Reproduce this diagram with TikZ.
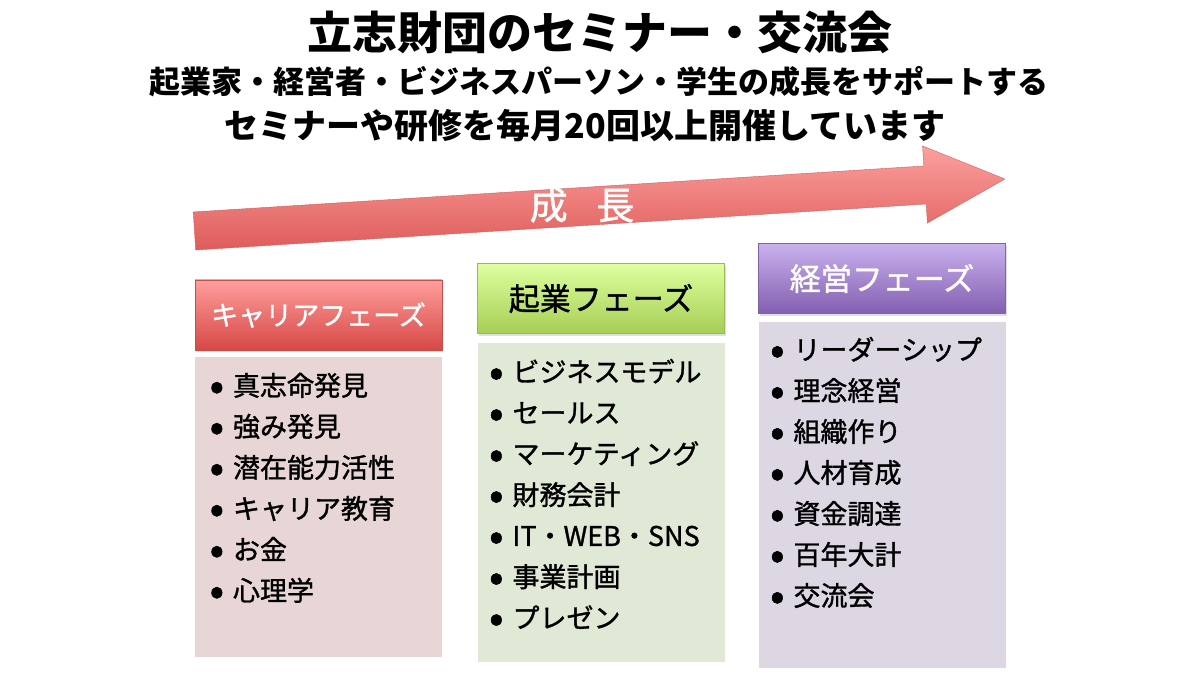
\documentclass[tikz,border=0pt]{standalone}
\usepackage{fontspec}
\setmainfont{Noto Sans CJK JP}
\newfontfamily\heavyfont[FakeBold=1.2]{Noto Sans CJK JP}
\usepackage{xcolor}
\usetikzlibrary{calc,shapes,positioning,shadows}

\definecolor{arrowtop}{RGB}{252,160,158}
\definecolor{arrowbot}{RGB}{222,92,90}
\definecolor{arrowline}{RGB}{205,95,95}
\definecolor{careertop}{RGB}{255,158,156}
\definecolor{careerbot}{RGB}{214,72,70}
\definecolor{careerline}{RGB}{190,80,78}
\definecolor{careerfill}{RGB}{232,214,214}
\definecolor{kigyotop}{RGB}{222,255,160}
\definecolor{kigyobot}{RGB}{166,206,84}
\definecolor{kigyoline}{RGB}{150,185,90}
\definecolor{kigyofill}{RGB}{224,232,214}
\definecolor{keieitop}{RGB}{202,178,238}
\definecolor{keieibot}{RGB}{130,94,176}
\definecolor{keieiline}{RGB}{128,100,170}
\definecolor{keieifill}{RGB}{221,215,228}

\newcommand{\phaselist}[1]{%
  \begin{minipage}[t]{215pt}
    \heavyfont\fontsize{27}{41}\selectfont
    \setlength{\leftmargini}{22pt}\setlength{\labelsep}{9pt}
    \renewcommand{\labelitemi}{\raisebox{-4.5pt}{\fontsize{42}{42}\selectfont •}}
    \begin{itemize}
      \setlength{\itemsep}{0pt}\setlength{\parsep}{0pt}\setlength{\parskip}{0pt}
      #1
    \end{itemize}
  \end{minipage}}

\tikzset{
  phasehead/.style={minimum width=247pt, minimum height=70pt, inner sep=0pt,
    drop shadow={opacity=0.25, shadow xshift=1pt, shadow yshift=-2.5pt}},
  careerhead/.style={phasehead, top color=careertop, bottom color=careerbot, draw=careerline,
    text=white, font=\heavyfont\fontsize{27}{27}\selectfont},
  kigyohead/.style={phasehead, top color=kigyotop, bottom color=kigyobot, draw=kigyoline,
    text=black, font=\heavyfont\fontsize{31}{31}\selectfont},
  keieihead/.style={phasehead, top color=keieitop, bottom color=keieibot, draw=keieiline,
    text=white, font=\heavyfont\fontsize{31}{31}\selectfont},
  phasebody/.style={minimum width=247pt, inner sep=0pt, fill=#1},
  phasetext/.style={inner sep=0pt, anchor=north west}
}

\begin{document}
\begin{tikzpicture}[x=1pt, y=1pt]
  \fill[white] (0,0) rectangle (1200,675);
  \useasboundingbox (0,0) rectangle (1200,675);

  % title lines
  \node (title) at (600,643) {\fontsize{45}{45}\selectfont\bfseries 立志財団のセミナー・交流会};
  \node (subone) at (599,593) {\fontsize{31}{31}\selectfont\bfseries 起業家・経営者・ビジネスパーソン・学生の成長をサポートする};
  \node (subtwo) at (585,549) {\fontsize{34}{34}\selectfont\bfseries セミナーや研修を毎月20回以上開催しています};

  % growth arrow
  \path[draw=arrowline, top color=arrowtop, bottom color=arrowbot]
    (193.3,463) -- (923.8,509) -- (922.6,529) -- (1004.9,496)
    -- (927.4,452) -- (926.2,471) -- (195.7,425) -- cycle;
  \node[text=white, font=\heavyfont\fontsize{38}{38}\selectfont] (growth) at (582,470) {成\hspace{0.75em}長};

  % phase headers
  \node[careerhead] (career) at (318.5,360) {キャリアフェーズ};
  \node[kigyohead] (kigyo) at (601,376.5) {起業フェーズ};
  \node[keieihead] (keiei) at (882,396.5) {経営フェーズ};

  % phase bodies
  \node[phasebody=careerfill, minimum height=300pt, below=7pt of career] (careerbox) {};
  \node[phasebody=kigyofill, minimum height=319pt, below=9pt of kigyo] (kigyobox) {};
  \node[phasebody=keieifill, minimum height=346pt, below=8pt of keiei] (keieibox) {};

  \node[phasetext, below right=15.5pt and 16pt of careerbox.north west] (careerlist) {\phaselist{
    \item 真志命発見
    \item 強み発見
    \item 潜在能力活性
    \item キャリア教育
    \item お金
    \item 心理学}};
  \node[phasetext, below right=16pt and 13pt of kigyobox.north west] (kigyolist) {\phaselist{
    \item ビジネスモデル
    \item セールス
    \item マーケティング
    \item 財務会計
    \item IT・WEB・SNS
    \item 事業計画
    \item プレゼン}};
  \node[phasetext, below right=15pt and 13pt of keieibox.north west] (keieilist) {\phaselist{
    \item リーダーシップ
    \item 理念経営
    \item 組織作り
    \item 人材育成
    \item 資金調達
    \item 百年大計
    \item 交流会}};
\end{tikzpicture}
\end{document}
